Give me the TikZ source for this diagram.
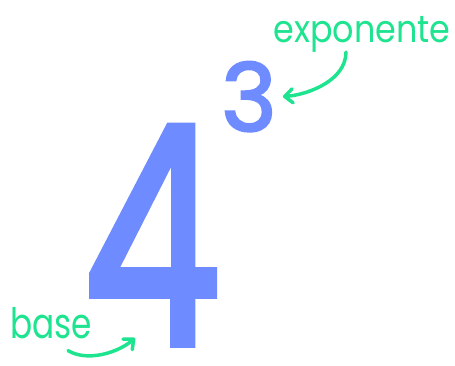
\documentclass[tikz,border=0pt]{standalone}
\usepackage{fontspec}
\setmainfont{Poppins}
\newfontfamily\digitfont{Poppins}[FakeBold=2.5]
\usepackage{xcolor}
\usetikzlibrary{positioning,arrows.meta}
\definecolor{digitblue}{HTML}{6E8BFF}
\definecolor{notegreen}{HTML}{1EE38F}

\begin{document}
\begin{tikzpicture}
[
x=1pt, y=-1pt,
digit-a/.style={text=digitblue, inner sep=0pt, anchor=base, font=\digitfont\fontsize{304}{304}\selectfont},
digit-b/.style={text=digitblue, inner sep=0pt, anchor=base, font=\digitfont\fontsize{94}{94}\selectfont},
text-a/.style={text=notegreen, inner sep=0pt, anchor=base, font=\fontsize{38}{38}\selectfont},
arrow-a/.style={draw=notegreen, line width=3.5pt, line cap=round, -{Straight Barb[length=8pt,width=14pt,round]}}
]
\useasboundingbox (0,0) rectangle (455,365);

\node (num-base)  [digit-a, xscale=0.72]      at (152,344) {4};
\node (num-exp)   [digit-b]                   at (249,131) {3};
\node (text-exp)  [text-a, xscale=0.88]       at (362,42)  {exponente};
\node (text-base) [text-a, xscale=0.78, font=\fontsize{42}{42}\selectfont] at (51,338) {base};
\coordinate (base-tip) at (135,338);

\draw [arrow-a] ([xshift=-16pt]text-exp.south) .. controls +(0,28) and +(26,-2) .. ([xshift=6pt]num-exp.east);
\draw [arrow-a] ([xshift=17pt, yshift=-12pt]text-base.south) .. controls +(20,12) and +(-16,14) .. (base-tip);

\end{tikzpicture}
\end{document}
